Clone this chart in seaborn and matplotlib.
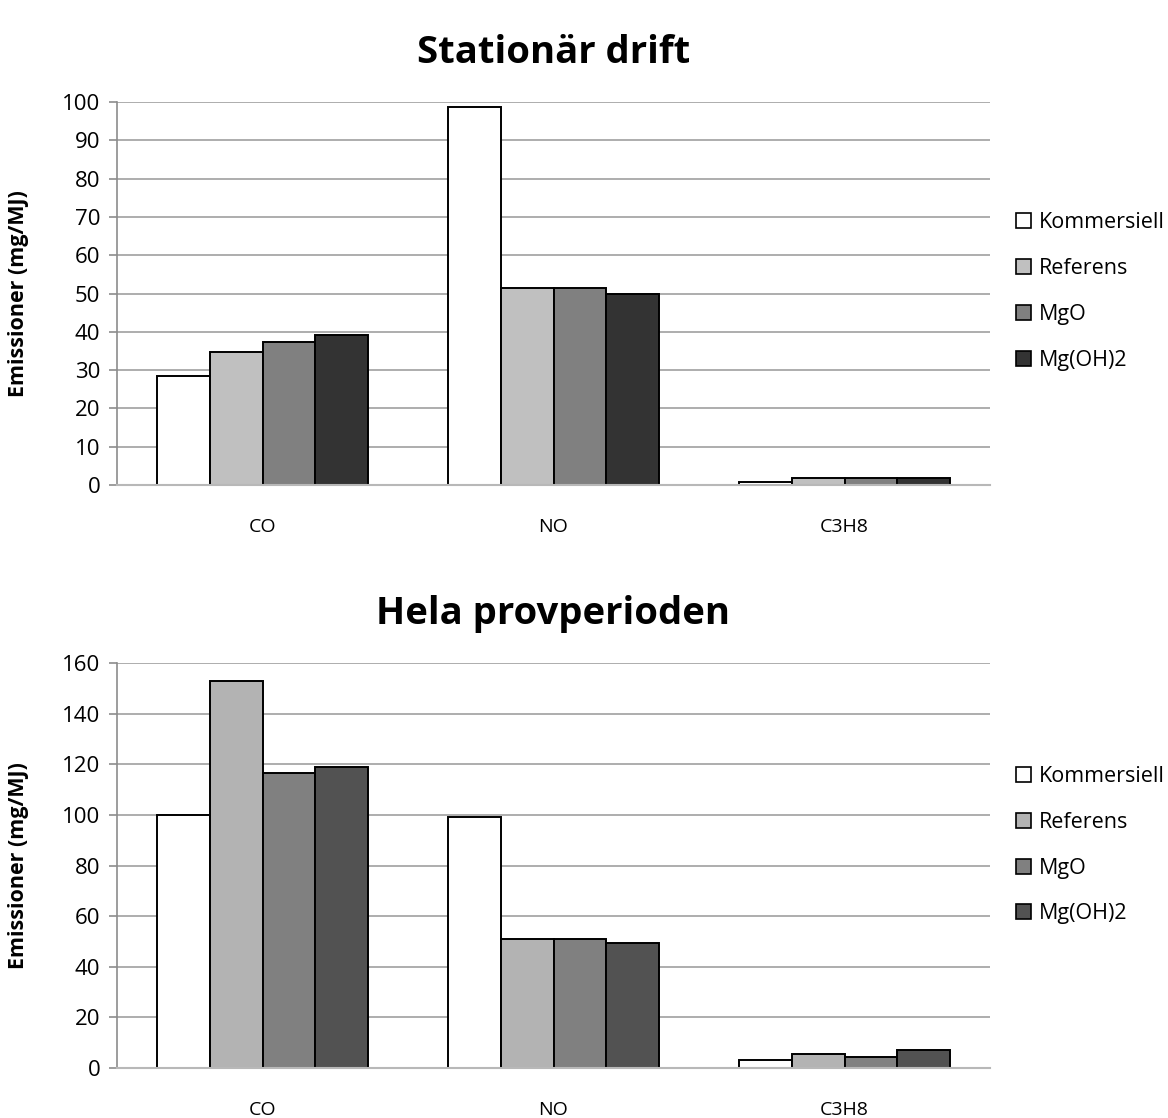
import matplotlib
matplotlib.use("Agg")
import matplotlib.pyplot as plt
import seaborn as sns
import pandas as pd
from matplotlib.patches import Patch

# Emissions data (mg/MJ)
categories = ["CO", "NO", "C3H8"]
series = ["Kommersiell", "Referens", "MgO", "Mg(OH)2"]

stationar_kommersiell = [28.5, 98.6, 0.9]
stationar_referens = [34.8, 51.4, 1.9]
stationar_mgo = [37.3, 51.4, 1.9]
stationar_mgoh2 = [39.2, 50.0, 1.9]

hela_kommersiell = [100.0, 99.1, 3.0]
hela_referens = [153.0, 50.9, 5.4]
hela_mgo = [116.7, 50.9, 4.5]
hela_mgoh2 = [119.1, 49.4, 7.0]

top_colors = ["#ffffff", "#c0c0c0", "#808080", "#333333"]
bottom_colors = ["#ffffff", "#b3b3b3", "#808080", "#525252"]

sns.set_theme(style="white")
plt.rcParams["font.family"] = ["Open Sans", "DejaVu Sans"]
plt.rcParams["text.color"] = "black"
plt.rcParams["axes.labelcolor"] = "black"
plt.rcParams["xtick.color"] = "black"
plt.rcParams["ytick.color"] = "black"


def make_frame(values_per_series):
    rows = []
    for name, vals in zip(series, values_per_series):
        for cat, v in zip(categories, vals):
            rows.append({"Komponent": cat, "Serie": name, "Emission": v})
    return pd.DataFrame(rows)


def draw(ax, df, colors, title, ymax, step, legend_y):
    sns.barplot(data=df, x="Komponent", y="Emission", hue="Serie",
                hue_order=series, order=categories, palette=colors,
                width=0.724, gap=0, edgecolor="black", linewidth=1.4,
                saturation=1, ax=ax, legend=False, errorbar=None)
    ax.set_ylim(0, ymax)
    ax.set_xlim(-0.5, 2.5)
    ax.set_yticks(range(0, ymax + 1, step))
    ax.yaxis.grid(True, color="#a0a0a0", linewidth=1.2)
    ax.set_axisbelow(True)
    for s in ["top", "right"]:
        ax.spines[s].set_visible(False)
    ax.spines["left"].set_color("#8c8c8c")
    ax.spines["bottom"].set_color("#b8b8b8")
    ax.spines["left"].set_linewidth(1.2)
    ax.spines["bottom"].set_linewidth(1.5)
    ax.tick_params(axis="y", length=6, color="#8c8c8c", width=1.2,
                   labelsize=16, pad=6, left=True, labelcolor="black")
    ax.tick_params(axis="x", length=0, labelsize=14, pad=24,
                   labelcolor="black")
    ax.set_xlabel("")
    ax.set_ylabel("Emissioner (mg/MJ)", fontsize=15.5, fontweight="bold",
                  labelpad=24, color="black")
    ax.set_title(title, fontsize=27.5, fontweight="bold", pad=28,
                 color="black")
    handles = [Patch(facecolor=c, edgecolor="black", linewidth=1.2)
               for c in colors]
    ax.legend(handles, series, loc="center left",
              bbox_to_anchor=(1.0, legend_y),
              frameon=False, fontsize=15.5, handlelength=0.7,
              handleheight=0.7, handletextpad=0.35, labelspacing=1.15,
              borderaxespad=0.8)


fig = plt.figure(figsize=(11.68, 11.18), dpi=100)
ax1 = fig.add_axes([117 / 1168, 1 - 485 / 1118, 873 / 1168, 383 / 1118])
ax2 = fig.add_axes([117 / 1168, 1 - 1068 / 1118, 873 / 1168, 405 / 1118])

draw(ax1, make_frame([stationar_kommersiell, stationar_referens,
                      stationar_mgo, stationar_mgoh2]),
     top_colors, "Stationär drift", 100, 10, 0.505)
draw(ax2, make_frame([hela_kommersiell, hela_referens,
                      hela_mgo, hela_mgoh2]),
     bottom_colors, "Hela provperioden", 160, 20, 0.55)

fig.savefig("out.png", dpi=100, facecolor="white")
